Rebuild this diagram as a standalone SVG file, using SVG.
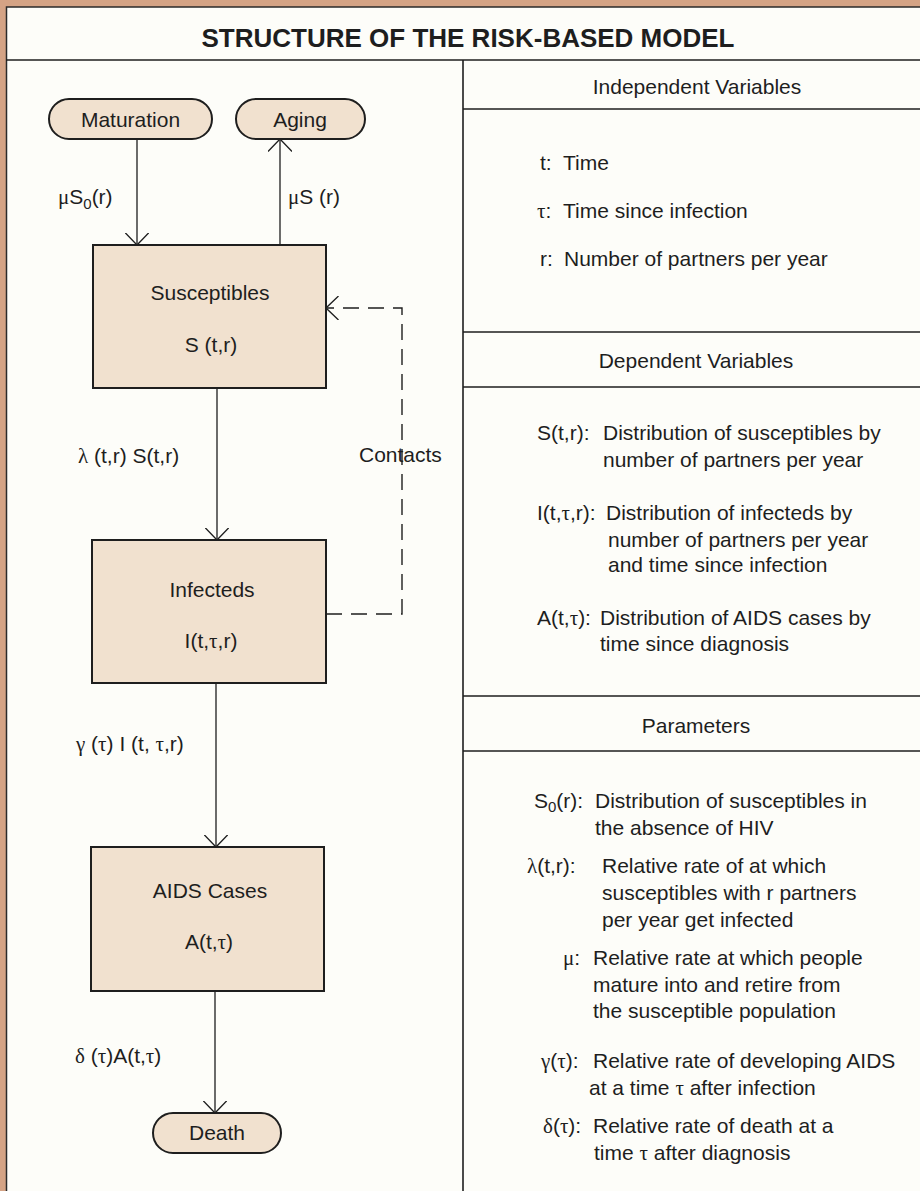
<svg xmlns="http://www.w3.org/2000/svg" width="920" height="1191" viewBox="0 0 920 1191">
<defs>
<style>
text{font-family:"Liberation Sans",Arial,sans-serif;font-size:21px;fill:#1e1e1e}
.t{font-size:26px;font-weight:bold;text-anchor:middle}
.c{text-anchor:middle}
.g{font-family:"Liberation Serif","Times New Roman",serif}
.sub{font-size:15px}
.box{fill:#f1e1cf;stroke:#1e1e1e;stroke-width:2}
.ln{stroke:#1e1e1e;stroke-width:1.6;fill:none}
.ar{stroke:#1e1e1e;stroke-width:1.3;fill:none;marker-end:url(#ah)}
.dash{stroke:#1e1e1e;stroke-width:1.4;fill:none;stroke-dasharray:16 9;marker-end:url(#ah)}
</style>
<marker id="ah" markerUnits="userSpaceOnUse" viewBox="0 0 13 24" refX="12.5" refY="12" markerWidth="13" markerHeight="24" orient="auto">
<path d="M0,0 L12.5,12 L0,24" fill="none" stroke="#1e1e1e" stroke-width="1.3" stroke-dasharray="none"/>
</marker>
</defs>
<rect x="0" y="0" width="920" height="1191" fill="#d4a385"/>
<rect x="6.5" y="7" width="920" height="1190" fill="#fdfdf9" stroke="#2a2a2a" stroke-width="1.5"/>
<text class="t" x="468" y="47">STRUCTURE OF THE RISK-BASED MODEL</text>
<g id="frame-lines">
<line class="ln" x1="6" y1="60" x2="920" y2="60"/>
<line class="ln" x1="463" y1="60" x2="463" y2="1191"/>
<line class="ln" x1="463" y1="109" x2="920" y2="109"/>
<line class="ln" x1="463" y1="332" x2="920" y2="332"/>
<line class="ln" x1="463" y1="387" x2="920" y2="387"/>
<line class="ln" x1="463" y1="696" x2="920" y2="696"/>
<line class="ln" x1="463" y1="751" x2="920" y2="751"/>
</g>
<g id="connectors">
<path class="ar" d="M137,139 L137,245"/>
<path class="ar" d="M280,245 L280,139"/>
<path class="ar" d="M217,388 L217,540"/>
<path class="ar" d="M216,683 L216,847"/>
<path class="ar" d="M215,991 L215,1113"/>
<path class="dash" d="M326,614 L402,614 L402,308 L326,308"/>
<text x="58" y="204"><tspan class="g">μ</tspan>S<tspan class="sub" dy="5">0</tspan><tspan dy="-5">(r)</tspan></text>
<text x="288" y="204"><tspan class="g">μ</tspan>S (r)</text>
<text x="78" y="463"><tspan class="g">λ</tspan> (t,r) S(t,r)</text>
<text x="359" y="462">Contacts</text>
<text x="76" y="751"><tspan class="g">γ</tspan> (<tspan class="g">τ</tspan>) I (t, <tspan class="g">τ</tspan>,r)</text>
<text x="75" y="1063"><tspan class="g">δ</tspan> (<tspan class="g">τ</tspan>)A(t,<tspan class="g">τ</tspan>)</text>
</g>
<g id="maturation">
<rect class="box" x="49" y="99" width="163" height="40" rx="20"/>
<text class="c" x="130.5" y="127">Maturation</text>
</g>
<g id="aging">
<rect class="box" x="236" y="99" width="129" height="40" rx="20"/>
<text class="c" x="300" y="127">Aging</text>
</g>
<g id="susceptibles">
<rect class="box" x="93" y="245" width="233" height="143"/>
<text class="c" x="210" y="300">Susceptibles</text>
<text class="c" x="211" y="352">S (t,r)</text>
</g>
<g id="infecteds">
<rect class="box" x="92" y="540" width="234" height="143"/>
<text class="c" x="212" y="597">Infecteds</text>
<text class="c" x="211" y="648">I(t,<tspan class="g">τ</tspan>,r)</text>
</g>
<g id="aids-cases">
<rect class="box" x="91" y="847" width="233" height="144"/>
<text class="c" x="210" y="898">AIDS Cases</text>
<text class="c" x="209" y="949">A(t,<tspan class="g">τ</tspan>)</text>
</g>
<g id="death">
<rect class="box" x="153" y="1113" width="128" height="40" rx="20"/>
<text class="c" x="217" y="1140">Death</text>
</g>
<g id="legend">
<text class="c" x="697" y="94">Independent Variables</text>
<text x="540" y="170">t:</text><text x="563" y="170">Time</text>
<text x="537" y="218"><tspan class="g">τ</tspan>:</text><text x="563" y="218">Time since infection</text>
<text x="540" y="266">r:</text><text x="564" y="266">Number of partners per year</text>
<text class="c" x="696" y="368">Dependent Variables</text>
<text x="537" y="440">S(t,r):</text>
<text x="603" y="440">Distribution of susceptibles by</text>
<text x="603" y="467">number of partners per year</text>
<text x="537" y="520">I(t,<tspan class="g">τ</tspan>,r):</text>
<text x="606" y="520">Distribution of infecteds by</text>
<text x="608" y="547">number of partners per year</text>
<text x="608" y="572">and time since infection</text>
<text x="537" y="625">A(t,<tspan class="g">τ</tspan>):</text>
<text x="600" y="625">Distribution of AIDS cases by</text>
<text x="600" y="651">time since diagnosis</text>
<text class="c" x="696" y="733">Parameters</text>
<text x="534" y="808">S<tspan class="sub" dy="4">0</tspan><tspan dy="-4">(r):</tspan></text>
<text x="595" y="808">Distribution of susceptibles in</text>
<text x="595" y="835">the absence of HIV</text>
<text x="527" y="873"><tspan class="g">λ</tspan>(t,r):</text>
<text x="602" y="873">Relative rate of at which</text>
<text x="602" y="900">susceptibles with r partners</text>
<text x="602" y="927">per year get infected</text>
<text x="563" y="965"><tspan class="g">μ</tspan>:</text>
<text x="593" y="965">Relative rate at which people</text>
<text x="593" y="992">mature into and retire from</text>
<text x="593" y="1018">the susceptible population</text>
<text x="541" y="1068"><tspan class="g">γ</tspan>(<tspan class="g">τ</tspan>):</text>
<text x="593" y="1068">Relative rate of developing AIDS</text>
<text x="589" y="1095">at a time <tspan class="g">τ</tspan> after infection</text>
<text x="543" y="1133"><tspan class="g">δ</tspan>(<tspan class="g">τ</tspan>):</text>
<text x="593" y="1133">Relative rate of death at a</text>
<text x="594" y="1160">time <tspan class="g">τ</tspan> after diagnosis</text>
</g>
</svg>
